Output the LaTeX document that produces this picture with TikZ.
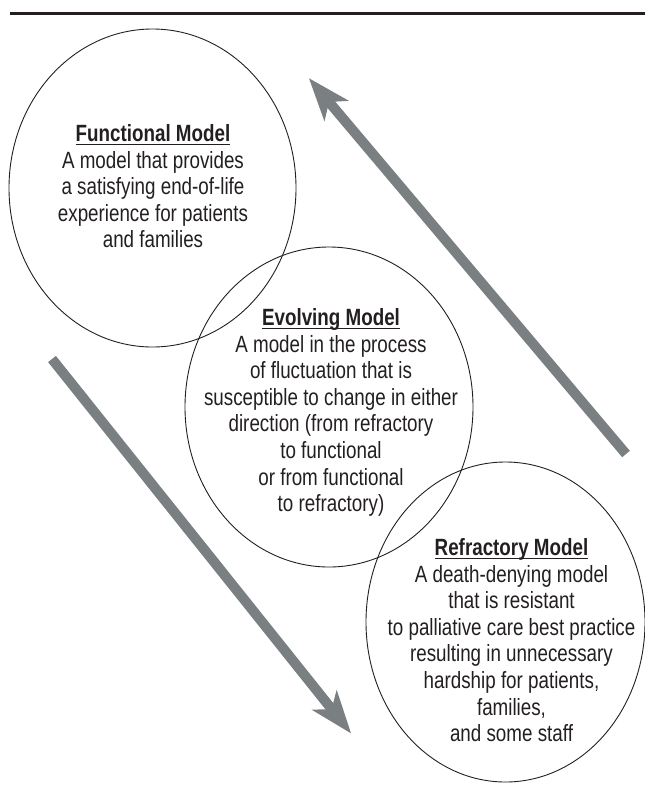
\documentclass[tikz,border=0pt]{standalone}
\usepackage{fontspec}
\setmainfont[FakeStretch=0.8]{Liberation Sans}
\usetikzlibrary{arrows.meta,shapes.geometric}
\definecolor{ink}{HTML}{231F20}
\definecolor{arrowgray}{HTML}{7A7F82}
\newcommand\titleul[1]{\setbox0\hbox{\textbf{#1}}\rlap{\rule[-4pt]{\wd0}{1.8pt}}\box0}
\tikzset{
  modelshape/.style={draw=ink, line width=0.9pt, ellipse, inner sep=0pt},
  modeltext/.style={text=ink, align=center, anchor=north, inner sep=0pt,
    font=\fontsize{23.5}{26.6}\selectfont},
  bigarrow/.style={draw=arrowgray, line width=10pt,
    -{Stealth[length=43pt,width=32pt,inset=12pt,line width=0pt]}},
}
\begin{document}
\begin{tikzpicture}[x=1pt,y=-1pt]
\useasboundingbox (0,0) rectangle (645,793);
% top rule
\coordinate (ruleL) at (10,13);
\coordinate (ruleR) at (645,13);
\draw[ink, line width=3pt] (ruleL) -- (ruleR);
% ellipses
\node[modelshape, minimum width=287pt, minimum height=318pt] (func) at (152.5,188) {};
\node[modelshape, minimum width=288pt, minimum height=320pt] (evol) at (329,407) {};
\node[modelshape, minimum width=279pt, minimum height=320pt] (refr) at (505.5,622) {};
% texts
\node[modeltext] (functext) at (153,124.2) {\titleul{Functional Model}\\
A model that provides\\ a satisfying end-of-life\\ experience for patients\\ and families};
\node[modeltext] (evoltext) at (331,308.2) {\titleul{Evolving Model}\\
A model in the process\\ of fluctuation that is\\ susceptible to change in either\\
direction (from refractory\\ to functional\\ or from functional\\ to refractory)};
\node[modeltext] (refrtext) at (511.5,538.2) {\titleul{Refractory Model}\\
A death-denying model\\ that is resistant\\ to palliative care best practice\\
resulting in unnecessary\\ hardship for patients,\\ families,\\ and some staff};
% arrows
\coordinate (upTail) at (626,454);
\coordinate (upTip) at (309,78.3);
\coordinate (downTail) at (52,359);
\coordinate (downTip) at (351,733.3);
\draw[bigarrow] (upTail) -- (upTip);
\draw[bigarrow] (downTail) -- (downTip);
\end{tikzpicture}
\end{document}
